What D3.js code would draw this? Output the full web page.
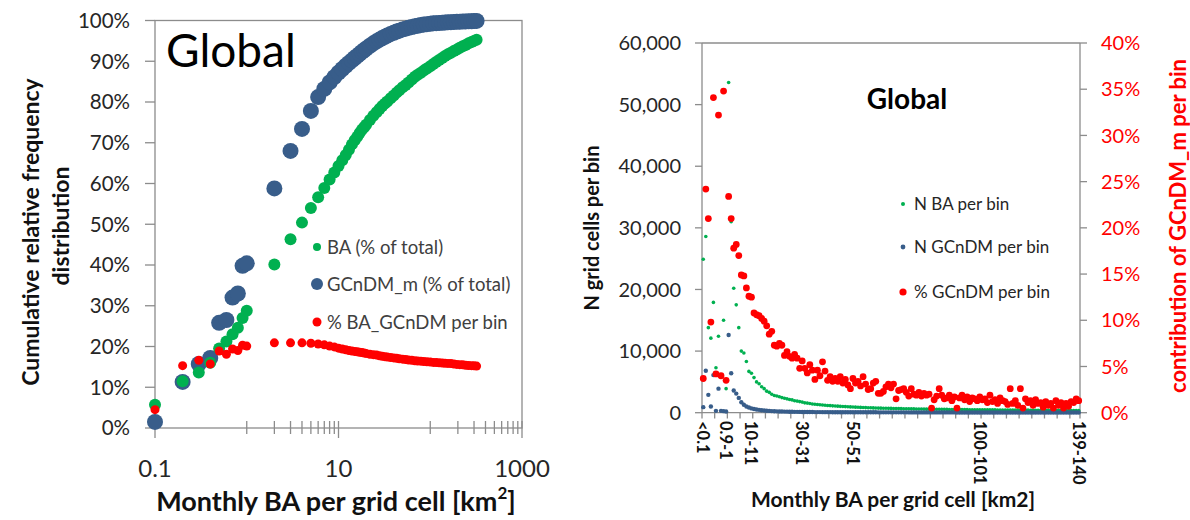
<!DOCTYPE html>
<html><head><meta charset="utf-8">
<script src="https://cdn.jsdelivr.net/npm/d3@7"></script>
<style>
body{margin:0;background:#fff;}
svg text{font-family:Lato,"Open Sans",sans-serif;}
</style></head><body>
<svg id="chart" width="1190" height="520"></svg>
<script>
// ===== Left panel: cumulative shares vs monthly burned area (log axis) =====
const cumBinX = [0.1,0.2,0.3,0.4,0.5,0.6,0.7,0.8,0.9,1,
  2,3,4,5,6,7,8,9,10,11,12,13,14,15,16,17,18,19,20,
  22,24,26,28,30,32,34,
  37,40,43,46,50,54,58,63,68,73,79,85,92,100,
  108,116,125,135,145,156,168,181,195,210,226,243,262,282,300,320];
const cumBA = [5.7,11.5,13.6,16.0,19.5,21.2,23.0,24.6,27.0,28.8,
  40.1,46.3,50.4,54.0,56.6,58.9,61.0,62.7,64.3,65.7,67.0,68.3,69.6,70.6,71.5,72.4,73.2,73.8,74.4,
  75.6,76.6,77.5,78.3,79.0,79.6,80.1,
  80.9,81.6,82.3,82.9,83.6,84.2,84.8,85.5,86.2,86.7,87.2,87.7,88.2,88.8,
  89.3,89.8,90.3,90.8,91.3,91.7,92.1,92.5,92.9,93.3,93.7,94.0,94.4,94.7,95.0,95.3];
const cumGCnDM = [1.5,11.3,15.7,17.2,25.8,26.5,32.0,33.0,39.8,40.4,
  58.8,68.0,73.4,77.8,81.2,83.2,84.8,86.1,87.2,88.1,88.9,89.6,90.2,90.8,91.3,91.8,92.3,92.7,93.1,
  93.8,94.4,94.9,95.3,95.7,96.0,96.3,
  96.7,97.0,97.3,97.5,97.8,98.0,98.2,98.4,98.6,98.7,98.9,99.0,99.1,99.2,
  99.3,99.35,99.4,99.45,99.5,99.55,99.6,99.65,99.7,99.72,99.75,99.78,99.8,99.82,99.85,99.9];
const pctBA_GCnDM = [4.5,15.3,16.6,15.7,18.9,18.1,19.4,19.0,20.3,20.1,
  20.9,20.9,20.9,20.8,20.6,20.4,20.1,19.9,19.6,19.4,19.2,19.0,18.9,18.8,18.7,18.6,18.5,18.4,18.3,
  18.1,18.0,17.9,17.7,17.6,17.5,17.4,
  17.3,17.2,17.1,17.0,16.9,16.8,16.7,16.6,16.5,16.45,16.4,16.3,16.25,16.2,
  16.1,16.05,16.0,15.95,15.9,15.85,15.8,15.7,15.6,15.55,15.5,15.4,15.35,15.3,15.25,15.2];
const leftTickLabels = ["0.1","10","1000"];
const leftMinorTicks = [1,2,3,4,5,6,7,8,9,100,200,300,400,500,600,700,800,900];
const leftLegend = ["BA (% of total)","GCnDM_m (% of total)","% BA_GCnDM per bin"];

// ===== Right panel: counts and contribution per 1-km2 bin =====
const binLabels = ["<0.1","0.1-0.2","0.2-0.3","0.3-0.4","0.4-0.5","0.5-0.6","0.6-0.7","0.7-0.8","0.8-0.9","0.9-1",
 "1-2","2-3","3-4","4-5","5-6","6-7","7-8","8-9","9-10","10-11",
 "11-12","12-13","13-14","14-15","15-16","16-17","17-18","18-19","19-20","20-21",
 "21-22","22-23","23-24","24-25","25-26","26-27","27-28","28-29","29-30","30-31",
 "31-32","32-33","33-34","34-35","35-36","36-37","37-38","38-39","39-40","40-41",
 "41-42","42-43","43-44","44-45","45-46","46-47","47-48","48-49","49-50","50-51",
 "51-52","52-53","53-54","54-55","55-56","56-57","57-58","58-59","59-60","60-61",
 "61-62","62-63","63-64","64-65","65-66","66-67","67-68","68-69","69-70","70-71",
 "71-72","72-73","73-74","74-75","75-76","76-77","77-78","78-79","79-80","80-81",
 "81-82","82-83","83-84","84-85","85-86","86-87","87-88","88-89","89-90","90-91",
 "91-92","92-93","93-94","94-95","95-96","96-97","97-98","98-99","99-100","100-101",
 "101-102","102-103","103-104","104-105","105-106","106-107","107-108","108-109","109-110","110-111",
 "111-112","112-113","113-114","114-115","115-116","116-117","117-118","118-119","119-120","120-121",
 "121-122","122-123","123-124","124-125","125-126","126-127","127-128","128-129","129-130","130-131",
 "131-132","132-133","133-134","134-135","135-136","136-137","137-138","138-139","139-140"];
const shownBinLabels = ["<0.1","0.9-1","10-11","30-31","50-51","100-101","139-140"];
const nBA = [24900,28600,13800,12100,17900,7300,12400,6000,15000,3900,
 53600,31000,20200,17500,13800,10000,9700,8300,6700,6400,
 5700,5000,4700,4200,3900,3500,3300,3000,2800,2700,
 2600,2450,2350,2250,2150,2080,1950,1880,1800,1720,
 1600,1560,1490,1420,1380,1330,1280,1250,1200,1170,
 1150,1110,1090,1060,1030,1010,990,960,940,920,
 900,880,860,845,830,810,795,780,770,750,
 740,730,720,710,700,690,680,670,660,650,
 640,632,625,615,610,600,595,588,580,575,
 570,562,555,550,545,540,535,530,525,520,
 515,510,505,500,495,490,487,484,480,475,
 470,468,465,460,455,452,450,445,440,438,
 435,430,428,425,420,418,415,412,410,405,
 402,400,398,395,392,390,388,385,382,380,
 378,375,372,370,368,365,362,360,358];
const nGCnDM = [900,6800,2900,1000,6100,300,3900,300,250,200,
 12600,6400,3600,3100,2400,1700,1300,1000,850,700,
 600,520,460,400,360,320,290,260,240,220,
 200,190,180,170,160,150,142,135,130,125,
 120,115,110,105,100,98,95,92,90,88,
 86,84,82,80,78,76,75,73,72,70,
 69,68,67,66,65,64,63,62,61,60,
 59,58,58,57,56,56,55,54,54,53,
 53,52,52,51,51,50,50,49,49,48,
 48,48,47,47,46,46,46,45,45,45,
 44,44,44,43,43,43,42,42,42,41,
 41,41,41,40,40,40,40,39,39,39,
 39,38,38,38,38,37,37,37,37,36,
 36,36,36,36,35,35,35,35,35,34,
 34,34,34,34,33,33,33,33,33];
const pctGCnDM = [3.7,24.2,21.0,9.8,34.1,4.2,32.2,4.0,34.8,3.5,
 23.4,21.0,17.8,18.2,17.0,14.9,14.8,13.5,12.6,12.5,
 10.8,10.6,10.5,10.2,9.9,9.4,8.5,8.8,7.3,7.2,
 7.5,7.3,6.2,6.6,6.1,5.9,6.3,5.9,4.8,5.6,
 4.8,4.3,5.2,4.6,3.6,4.6,4.0,5.5,4.5,3.5,
 3.9,3.4,3.7,3.4,3.9,3.2,3.6,3.0,2.6,3.7,
 3.2,3.4,2.9,3.9,3.1,2.5,2.6,3.2,3.4,2.1,
 2.1,2.3,2.8,3.1,2.7,3.1,1.5,2.4,2.5,2.6,
 2.2,1.8,2.6,2.0,1.9,2.2,1.8,2.1,1.9,2.0,
 0.5,1.4,1.8,2.6,1.9,1.5,1.6,1.9,1.3,1.7,
 0.5,1.6,1.9,1.4,1.7,1.2,1.6,1.5,1.3,1.7,
 1.4,1.5,1.1,1.9,1.2,1.4,1.0,1.6,1.3,1.2,
 0.9,2.6,1.0,1.3,0.8,2.6,0.5,1.5,1.1,1.3,
 0.8,1.4,1.0,1.1,0.6,1.2,0.8,1.0,0.5,1.3,
 0.8,1.1,0.5,1.0,0.7,1.2,1.1,1.5,1.3];
const countTicks = [0,10000,20000,30000,40000,50000,60000];
const pctTicks = [0,5,10,15,20,25,30,35,40];
const rightLegend = ["N BA per bin","N GCnDM per bin","% GCnDM per bin"];

const GREEN = "#00B050", BLUE = "#385D8A", RED = "#FF0000", AXIS = "#8C8C8C", TXT = "#262626";
const svg = d3.select("#chart");

// ---------- left panel ----------
const xL = d3.scaleLog().domain([0.1, 1000]).range([155, 522]);
const yL = d3.scaleLinear().domain([0, 100]).range([428, 20.5]);
const gL = svg.append("g");

gL.append("rect").attr("x", 155).attr("y", yL(100)).attr("width", 522 - 155).attr("height", yL(0) - yL(100))
  .attr("fill", "none").attr("stroke", AXIS).attr("stroke-width", 1.3);

const yTicksL = d3.range(0, 101, 10);
gL.selectAll(".ytl").data(yTicksL).join("line")
  .attr("x1", 145).attr("x2", 155).attr("y1", d => yL(d)).attr("y2", d => yL(d))
  .attr("stroke", AXIS).attr("stroke-width", 1.3);
gL.selectAll(".ylab").data(yTicksL).join("text")
  .attr("x", 130).attr("y", d => yL(d)).attr("dy", "0.36em").attr("text-anchor", "end")
  .attr("font-size", 20.5).attr("fill", TXT).text(d => d + "%");

gL.selectAll(".xminor").data(leftMinorTicks).join("line")
  .attr("x1", d => xL(d)).attr("x2", d => xL(d)).attr("y1", 421).attr("y2", 434)
  .attr("stroke", AXIS).attr("stroke-width", 1.3);
gL.selectAll(".xmajor").data(leftTickLabels).join("line")
  .attr("x1", d => xL(+d)).attr("x2", d => xL(+d)).attr("y1", 421).attr("y2", 438)
  .attr("stroke", AXIS).attr("stroke-width", 1.3);
gL.selectAll(".xlab").data(leftTickLabels).join("text")
  .attr("x", d => xL(+d)).attr("y", 477).attr("text-anchor", "middle")
  .attr("font-size", 24).attr("fill", TXT).text(d => d);

const cumRows = cumBinX.map((x, i) => ({x, ba: cumBA[i], gc: cumGCnDM[i], pct: pctBA_GCnDM[i]}));
gL.append("g").selectAll("circle").data(cumRows).join("circle")
  .attr("cx", d => xL(d.x)).attr("cy", d => yL(d.gc)).attr("r", 8).attr("fill", BLUE);
gL.append("g").selectAll("circle").data(cumRows).join("circle")
  .attr("cx", d => xL(d.x)).attr("cy", d => yL(d.ba)).attr("r", 6).attr("fill", GREEN);
gL.append("g").selectAll("circle").data(cumRows).join("circle")
  .attr("cx", d => xL(d.x)).attr("cy", d => yL(d.pct)).attr("r", 4.5).attr("fill", RED);

gL.append("text").attr("x", 166).attr("y", 67).attr("font-size", 46).attr("fill", "#000").text("Global");

const legL = [{c: GREEN, r: 4}, {c: BLUE, r: 6}, {c: RED, r: 4.5}];
const legLY = [247, 284, 322];
legL.forEach((s, i) => {
  gL.append("circle").attr("cx", 317).attr("cy", legLY[i]).attr("r", s.r).attr("fill", s.c);
  gL.append("text").attr("x", 327).attr("y", legLY[i]).attr("dy", "0.36em")
    .attr("font-size", 18.5).attr("fill", "#404040").text(leftLegend[i]);
});

gL.append("text").attr("transform", "translate(30,232) rotate(-90)").attr("text-anchor", "middle")
  .attr("dominant-baseline", "central").attr("font-size", 23).attr("font-weight", "bold").attr("fill", "#111")
  .text("Cumulative relative frequency");
gL.append("text").attr("transform", "translate(60,226) rotate(-90)").attr("text-anchor", "middle")
  .attr("dominant-baseline", "central").attr("font-size", 23).attr("font-weight", "bold").attr("fill", "#111")
  .text("distribution");
const xtL = gL.append("text").attr("x", 336).attr("y", 511).attr("text-anchor", "middle")
  .attr("font-size", 27).attr("font-weight", "bold").attr("fill", "#111");
xtL.append("tspan").text("Monthly BA per grid cell [km");
xtL.append("tspan").attr("font-size", 17).attr("dy", -12).text("2");
xtL.append("tspan").attr("dy", 12).text("]");

// ---------- right panel ----------
const xR = d3.scaleBand().domain(binLabels).range([702, 1080]).padding(0);
const yR = d3.scaleLinear().domain([0, 60000]).range([412.7, 43]);
const yR2 = d3.scaleLinear().domain([0, 40]).range([412.7, 43]);
const gR = svg.append("g");
const cx = d => xR(d) + xR.bandwidth() / 2;

gR.append("line").attr("x1", 702).attr("x2", 1080).attr("y1", 43).attr("y2", 43).attr("stroke", AXIS).attr("stroke-width", 1.3);
gR.append("line").attr("x1", 702).attr("x2", 702).attr("y1", 43).attr("y2", 412.7).attr("stroke", AXIS).attr("stroke-width", 1.3);
gR.append("line").attr("x1", 1080).attr("x2", 1080).attr("y1", 43).attr("y2", 412.7).attr("stroke", AXIS).attr("stroke-width", 1.3);
gR.append("line").attr("x1", 702).attr("x2", 1080).attr("y1", 412.7).attr("y2", 412.7).attr("stroke", AXIS).attr("stroke-width", 1.3);

gR.selectAll(".ytr").data(countTicks).join("line")
  .attr("x1", 695).attr("x2", 702).attr("y1", d => yR(d)).attr("y2", d => yR(d)).attr("stroke", AXIS).attr("stroke-width", 1.3);
gR.selectAll(".ylr").data(countTicks).join("text")
  .attr("x", 681).attr("y", d => yR(d)).attr("dy", "0.36em").attr("text-anchor", "end")
  .attr("font-size", 20).attr("fill", TXT).text(d3.format(","));
gR.selectAll(".ytr2").data(pctTicks).join("line")
  .attr("x1", 1080).attr("x2", 1087).attr("y1", d => yR2(d)).attr("y2", d => yR2(d)).attr("stroke", AXIS).attr("stroke-width", 1.3);
gR.selectAll(".ylr2").data(pctTicks).join("text")
  .attr("x", 1101).attr("y", d => yR2(d)).attr("dy", "0.36em")
  .attr("font-size", 20).attr("fill", RED).text(d => d + "%");

const bounds = binLabels.map((_, i) => i).filter(i => i % 5 === 0);
gR.selectAll(".xtr").data(bounds).join("line")
  .attr("x1", i => xR(binLabels[i])).attr("x2", i => xR(binLabels[i])).attr("y1", 412.7).attr("y2", 418.5)
  .attr("stroke", AXIS).attr("stroke-width", 1.3);
gR.append("line").attr("x1", 1080).attr("x2", 1080).attr("y1", 412.7).attr("y2", 418.5).attr("stroke", AXIS).attr("stroke-width", 1.3);
gR.selectAll(".xlr").data(shownBinLabels).join("text")
  .attr("transform", d => `translate(${cx(d)},421) rotate(90)`)
  .attr("dominant-baseline", "central").attr("font-size", 16.5).attr("font-weight", "bold").attr("fill", "#111")
  .text(d => d);

const binRows = binLabels.map((b, i) => ({b, ba: nBA[i], gc: nGCnDM[i], pct: pctGCnDM[i]}));
gR.append("g").selectAll("circle").data(binRows).join("circle")
  .attr("cx", d => cx(d.b)).attr("cy", d => yR(d.ba)).attr("r", 1.8).attr("fill", GREEN);
gR.append("g").selectAll("circle").data(binRows).join("circle")
  .attr("cx", d => cx(d.b)).attr("cy", d => yR(d.gc)).attr("r", 2.2).attr("fill", BLUE);
gR.append("g").selectAll("circle").data(binRows).join("circle")
  .attr("cx", d => cx(d.b)).attr("cy", d => yR2(d.pct)).attr("r", 3.4).attr("fill", RED);

gR.append("text").attr("x", 907).attr("y", 109).attr("text-anchor", "middle")
  .attr("font-size", 28).attr("font-weight", "bold").attr("fill", "#000").text("Global");

const legR = [{c: GREEN, r: 2}, {c: BLUE, r: 2.4}, {c: RED, r: 3.6}];
const legRY = [204, 247, 292];
legR.forEach((s, i) => {
  gR.append("circle").attr("cx", 903).attr("cy", legRY[i]).attr("r", s.r).attr("fill", s.c);
  gR.append("text").attr("x", 914).attr("y", legRY[i]).attr("dy", "0.36em")
    .attr("font-size", 17).attr("fill", TXT).text(rightLegend[i]);
});

gR.append("text").attr("transform", "translate(591,228) rotate(-90)").attr("text-anchor", "middle")
  .attr("dominant-baseline", "central").attr("font-size", 20).attr("font-weight", "bold").attr("fill", "#111")
  .text("N grid cells per bin");
gR.append("text").attr("transform", "translate(1177,226) rotate(-90)").attr("text-anchor", "middle")
  .attr("dominant-baseline", "central").attr("font-size", 22).attr("font-weight", "bold").attr("fill", RED)
  .text("contribution of GCnDM_m per bin");
gR.append("text").attr("x", 893).attr("y", 507).attr("text-anchor", "middle")
  .attr("font-size", 21).attr("font-weight", "bold").attr("fill", "#111")
  .text("Monthly BA per grid cell [km2]");
</script>
</body></html>
